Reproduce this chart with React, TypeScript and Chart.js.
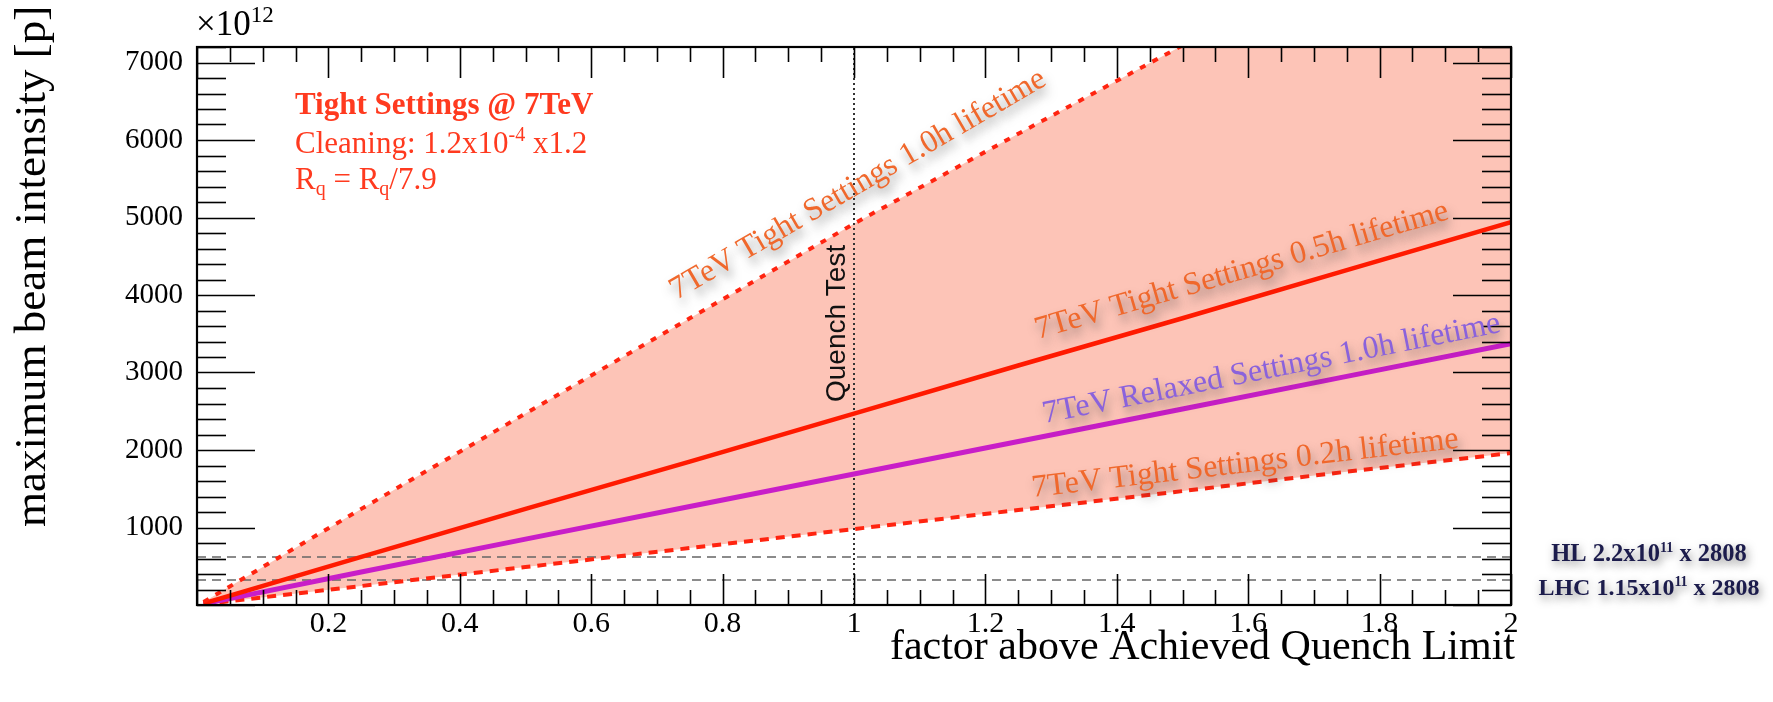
import { useEffect, useRef } from 'react';
import { Chart, registerables } from 'chart.js';

Chart.register(...registerables);

// ---- data ----
const xFactor = [0.01, 0.25, 0.5, 0.75, 1.0, 1.25, 1.5, 1.75, 2.0];
const tight10h = [40, 1240, 2470, 3700, 4920, 6080, 7220, 8350, 9450];
const tight05h = [20, 620, 1240, 1850, 2470, 3090, 3700, 4320, 4940];
const relaxed10h = [15, 425, 850, 1270, 1690, 2110, 2530, 2950, 3370];
const tight02h = [10, 245, 490, 735, 980, 1225, 1470, 1720, 1960];
const hlIntensity = 618; // 2.2e11 x 2808 (x1e12)
const lhcIntensity = 323; // 1.15e11 x 2808 (x1e12)
const quenchTestFactor = 1.0;
const xRange = [0, 2];
const yRange = [0, 7200];
const xTickValues = [0.2, 0.4, 0.6, 0.8, 1, 1.2, 1.4, 1.6, 1.8, 2];
const xTickLabels = ['0.2', '0.4', '0.6', '0.8', '1', '1.2', '1.4', '1.6', '1.8', '2'];
const yTickValues = [1000, 2000, 3000, 4000, 5000, 6000, 7000];
const yTickLabels = ['1000', '2000', '3000', '4000', '5000', '6000', '7000'];

const serif = "'Liberation Serif', 'Times New Roman', serif";
const sans = "'Liberation Sans', Arial, sans-serif";

const pts = (ys: number[]) => xFactor.map((x, i) => ({ x, y: ys[i] }));

type Part = { t: string; size?: number; dy?: number };

function richWidth(ctx: CanvasRenderingContext2D, parts: Part[], base: number, weight: string, family: string) {
  let w = 0;
  for (const p of parts) {
    ctx.font = `${weight} ${p.size ?? base}px ${family}`;
    w += ctx.measureText(p.t).width;
  }
  return w;
}

function drawRich(ctx: CanvasRenderingContext2D, parts: Part[], x: number, y: number, base: number, weight: string, family: string, align: 'left' | 'center' = 'left') {
  let cx = x;
  if (align === 'center') cx = x - richWidth(ctx, parts, base, weight, family) / 2;
  ctx.textAlign = 'left';
  ctx.textBaseline = 'alphabetic';
  for (const p of parts) {
    ctx.font = `${weight} ${p.size ?? base}px ${family}`;
    ctx.fillText(p.t, cx, y + (p.dy ?? 0));
    cx += ctx.measureText(p.t).width;
  }
}

const lineLabels = [
  { text: '7TeV Tight Settings 1.0h lifetime', series: tight10h, at: [0.73, 3935], color: '#f0682c' },
  { text: '7TeV Tight Settings 0.5h lifetime', series: tight05h, at: [1.28, 3432], color: '#f0682c' },
  { text: '7TeV Relaxed Settings 1.0h lifetime', series: relaxed10h, at: [1.29, 2348], color: '#8a62dc' },
  { text: '7TeV Tight Settings 0.2h lifetime', series: tight02h, at: [1.272, 1394], color: '#f0682c' },
];

const overlay = {
  id: 'overlay',
  afterDatasetsDraw(chart: any) {
    const { ctx, chartArea: a, scales } = chart;
    const xs = scales.x;
    const ys = scales.y;
    ctx.save();
    const seg = (x1: number, y1: number, x2: number, y2: number) => {
      ctx.beginPath();
      ctx.moveTo(x1, y1);
      ctx.lineTo(x2, y2);
      ctx.stroke();
    };
    // inward ticks
    ctx.strokeStyle = '#000';
    ctx.lineWidth = 1.6;
    for (let i = 0; i <= 36; i++) {
      const v = i * 200;
      const py = Math.round(ys.getPixelForValue(v)) + 0.5;
      const major = i % 5 === 0;
      const len = major ? 58 : 29;
      seg(a.left, py, a.left + len, py);
      seg(a.right, py, a.right - len, py);
    }
    for (let i = 0; i <= 40; i++) {
      const v = i * 0.05;
      const px = Math.round(xs.getPixelForValue(v)) + 0.5;
      const major = i % 4 === 0;
      const len = major ? 31 : 15;
      seg(px, a.bottom, px, a.bottom - len);
      seg(px, a.top, px, a.top + len);
    }
    ctx.lineWidth = 2.2;
    ctx.strokeRect(a.left, a.top, a.right - a.left, a.bottom - a.top);

    // line labels with shadow
    for (const l of lineLabels) {
      const p0x = xs.getPixelForValue(xFactor[0]);
      const p0y = ys.getPixelForValue(l.series[0]);
      const p1x = xs.getPixelForValue(xFactor[4]);
      const p1y = ys.getPixelForValue(l.series[4]);
      const ang = Math.atan2(p1y - p0y, p1x - p0x);
      ctx.save();
      ctx.translate(xs.getPixelForValue(l.at[0]), ys.getPixelForValue(l.at[1]));
      ctx.rotate(ang);
      ctx.shadowColor = 'rgba(60,60,60,0.55)';
      ctx.shadowBlur = 10;
      ctx.shadowOffsetX = 3;
      ctx.shadowOffsetY = 7;
      ctx.fillStyle = l.color;
      ctx.font = `32px ${serif}`;
      ctx.textAlign = 'left';
      ctx.textBaseline = 'alphabetic';
      ctx.fillText(l.text, 0, 0);
      ctx.restore();
    }

    // Quench Test
    ctx.save();
    ctx.translate(xs.getPixelForValue(quenchTestFactor) - 9, 402);
    ctx.rotate(-Math.PI / 2);
    ctx.fillStyle = '#111';
    ctx.font = `28px ${sans}`;
    ctx.textAlign = 'left';
    ctx.textBaseline = 'alphabetic';
    ctx.fillText('Quench Test', 0, 0);
    ctx.restore();

    // top-left info block
    ctx.fillStyle = '#ff3a1f';
    drawRich(ctx, [{ t: 'Tight Settings @ 7TeV' }], 295, 114, 31, 'bold', serif);
    drawRich(ctx, [{ t: 'Cleaning: 1.2x10' }, { t: '-4', size: 20, dy: -12 }, { t: ' x1.2' }], 295, 153, 31, 'normal', serif);
    drawRich(ctx, [{ t: 'R' }, { t: 'q', size: 20, dy: 6 }, { t: ' = R' }, { t: 'q', size: 20, dy: 6 }, { t: '/7.9' }], 295, 189, 31, 'normal', serif);

    // exponent
    ctx.fillStyle = '#000';
    drawRich(ctx, [{ t: '×10' }, { t: '12', size: 23, dy: -13 }], 196, 35, 35, 'normal', serif);

    // axis titles
    ctx.font = `42px ${serif}`;
    ctx.textAlign = 'right';
    ctx.textBaseline = 'alphabetic';
    ctx.fillText('factor above Achieved Quench Limit', 1515, 659);
    ctx.save();
    ctx.font = `45px ${serif}`;
    ctx.translate(45, 527);
    ctx.rotate(-Math.PI / 2);
    ctx.textAlign = 'left';
    ctx.fillText('maximum beam intensity [p]', 0, 0);
    ctx.restore();

    // right annotations
    ctx.save();
    ctx.shadowColor = 'rgba(40,40,40,0.5)';
    ctx.shadowBlur = 8;
    ctx.shadowOffsetX = 2;
    ctx.shadowOffsetY = 4;
    ctx.fillStyle = '#1c1c4c';
    drawRich(ctx, [{ t: 'HL 2.2x10' }, { t: '11', size: 14, dy: -9 }, { t: ' x 2808' }], 1649, 561, 24.5, 'bold', serif, 'center');
    drawRich(ctx, [{ t: 'LHC 1.15x10' }, { t: '11', size: 14, dy: -9 }, { t: ' x 2808' }], 1649, 595, 24, 'bold', serif, 'center');
    ctx.restore();

    ctx.restore();
  },
};

export default function App() {
  const ref = useRef<HTMLCanvasElement>(null);
  useEffect(() => {
    const canvas = ref.current;
    if (!canvas) return;
    const chart = new Chart(canvas, {
      type: 'line',
      data: {
        datasets: [
          {
            label: '7TeV Tight Settings 1.0h lifetime',
            data: pts(tight10h),
            borderColor: '#ff2410',
            borderWidth: 4,
            borderDash: [6, 8],
            fill: { target: 3 },
            backgroundColor: '#fdc4b7',
            order: 1,
          },
          {
            label: '7TeV Tight Settings 0.5h lifetime',
            data: pts(tight05h),
            borderColor: '#ff1a00',
            borderWidth: 4.5,
            fill: false,
            order: 1,
          },
          {
            label: '7TeV Relaxed Settings 1.0h lifetime',
            data: pts(relaxed10h),
            borderColor: '#c81ec8',
            borderWidth: 5,
            fill: false,
            order: 1,
          },
          {
            label: '7TeV Tight Settings 0.2h lifetime',
            data: pts(tight02h),
            borderColor: '#ff2410',
            borderWidth: 4,
            borderDash: [9, 7],
            fill: false,
            order: 1,
          },
          {
            label: 'HL',
            data: [{ x: xRange[0], y: hlIntensity }, { x: xRange[1], y: hlIntensity }],
            borderColor: '#666',
            borderWidth: 1.5,
            borderDash: [9, 6],
            fill: false,
            order: 5,
          },
          {
            label: 'LHC',
            data: [{ x: xRange[0], y: lhcIntensity }, { x: xRange[1], y: lhcIntensity }],
            borderColor: '#666',
            borderWidth: 1.5,
            borderDash: [9, 6],
            fill: false,
            order: 5,
          },
          {
            label: 'Quench Test',
            data: [{ x: quenchTestFactor, y: yRange[0] }, { x: quenchTestFactor, y: yRange[1] }],
            borderColor: '#333',
            borderWidth: 2,
            borderDash: [2, 3],
            fill: false,
            order: 5,
          },
        ],
      },
      options: {
        responsive: false,
        devicePixelRatio: 1,
        animation: false,
        elements: { point: { radius: 0 }, line: { tension: 0 } },
        layout: { padding: { left: 0, top: 47, right: 262, bottom: 0 } },
        plugins: {
          legend: { display: false },
          tooltip: { enabled: false },
          filler: { drawTime: 'beforeDatasetsDraw' },
        },
        scales: {
          x: {
            type: 'linear',
            min: xRange[0],
            max: xRange[1],
            grid: { display: false, drawTicks: false },
            border: { display: false },
            afterBuildTicks: (s: any) => {
              s.ticks = xTickValues.map((v) => ({ value: v }));
            },
            ticks: {
              autoSkip: false,
              maxRotation: 0,
              padding: 1,
              color: '#000',
              font: { family: serif, size: 30 },
              callback: (_v: any, i: number) => xTickLabels[i],
            },
            afterFit: (s: any) => {
              s.height = 97;
            },
          },
          y: {
            type: 'linear',
            min: yRange[0],
            max: yRange[1],
            grid: { display: false, drawTicks: false },
            border: { display: false },
            afterBuildTicks: (s: any) => {
              s.ticks = yTickValues.map((v) => ({ value: v }));
            },
            ticks: {
              autoSkip: false,
              padding: 14,
              color: '#000',
              font: { family: serif, size: 29 },
              callback: (_v: any, i: number) => yTickLabels[i],
            },
            afterFit: (s: any) => {
              s.width = 197;
            },
          },
        },
      },
      plugins: [overlay],
    } as any);
    return () => chart.destroy();
  }, []);
  return (
    <canvas
      ref={ref}
      width={1773}
      height={702}
      style={{ position: 'absolute', left: 0, top: 0, width: 1773, height: 702 }}
    />
  );
}
